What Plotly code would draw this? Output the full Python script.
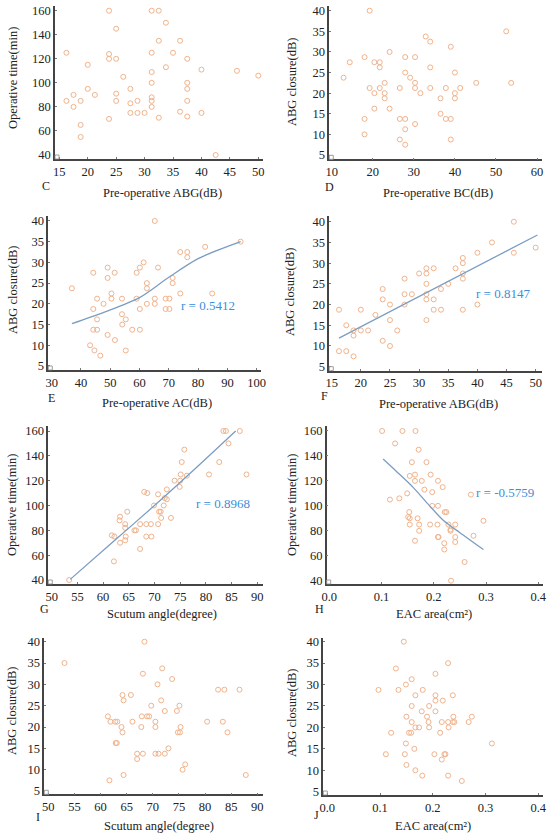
import plotly.graph_objects as go

W, H = 550, 836

# ---------------- data ----------------
c_x = [16.25, 16.25, 17.5, 17.5, 18.75, 18.75, 18.75, 20, 20, 21.25, 23.75, 23.75, 23.75, 23.75,
       25, 25, 25, 25, 26.25, 27.5, 27.5, 27.5, 28.75, 28.75, 30, 31.25, 31.25, 31.25, 31.25, 31.25,
       31.25, 31.25, 32.5, 32.5, 32.5, 33.75, 33.75, 35, 36.25, 36.25, 37.5, 37.5, 37.5, 37.5, 37.5,
       40, 40, 42.5, 46.25, 50]
c_y = [125, 85, 90, 80, 85, 65, 55, 115, 95, 90, 160, 124, 120, 70,
       145, 120, 91, 85, 105, 95, 83, 75, 85, 75, 75, 160, 125, 109, 100, 88,
       85, 80, 160, 135, 71, 150, 113, 125, 135, 76, 120, 100, 95, 85, 72,
       111, 75, 40, 110, 106]

d_x = [12.9, 14.4, 19.25, 18.0, 18.0, 18.0, 19.25, 20.4, 20.4, 20.4, 21.7, 21.7, 21.7, 22.9, 22.9,
       22.9, 24.1, 24.1, 26.6, 26.6, 26.6, 27.9, 27.9, 27.9, 27.9, 27.9, 29.1, 30.3, 30.3, 30.3, 30.3,
       31.6, 32.9, 34.0, 34.0, 34.0, 36.5, 36.5, 37.8, 37.8, 39.0, 39.0, 39.0, 40.0, 40.0, 40.0, 41.3,
       45.2, 52.5, 53.7]
d_y = [23.75, 27.5, 40, 28.75, 13.75, 10, 21.25, 27.5, 20, 16.25, 27.5, 26.25, 21.25, 22.5, 20,
       18.75, 30, 16.25, 21.25, 13.75, 8.75, 28.75, 25, 13.75, 11.25, 7.5, 23.75, 28.75, 22.5, 21.25, 12.5,
       20, 33.75, 32.5, 26.25, 21.25, 18.75, 15, 21.25, 13.75, 31.25, 13.75, 8.75, 25, 20, 18.75, 21.25,
       22.5, 35, 22.5]

e_x = [36.9, 43.1, 44.2, 44.2, 44.2, 44.6, 45.5, 45.5, 45.5, 46.6, 47.7, 49.1, 49.1, 49.1, 50.4,
       50.4, 51.5, 51.6, 54.0, 54.0, 54.1, 55.3, 55.3, 57.5, 59.0, 59.0, 60.1, 60.1, 60.1, 61.4, 62.5,
       62.5, 62.5, 65.2, 65.2, 65.2, 66.3, 68.9, 68.9, 70.2, 70.2, 71.3, 71.3, 73.9, 73.9, 76.3, 76.3,
       82.4, 84.8, 94.5]
e_y = [23.75, 10, 27.5, 18.75, 13.75, 8.75, 21.25, 16.25, 13.75, 7.5, 20, 28.75, 26.25, 12.5, 22.5,
       21.25, 27.5, 11.25, 21.25, 17.5, 15, 16.25, 8.75, 13.75, 27.5, 21.25, 28.75, 18.75, 13.75, 30, 25,
       23.75, 20, 40, 21.25, 20, 28.75, 21.25, 18.75, 21.25, 18.75, 26.25, 25, 32.5, 22.5, 32.5, 31.25,
       33.75, 22.5, 35]
e_fit_x = [36.9, 48, 60, 70, 80, 94.5]
e_fit_y = [15.2, 18.0, 21.5, 26.4, 30.9, 35.0]

f_x = [16.25, 16.25, 17.5, 17.5, 18.75, 18.75, 18.75, 20, 20, 21.25, 22.5, 23.75, 23.75, 23.75,
       25, 25, 25, 26.25, 27.5, 27.5, 27.5, 28.75, 30, 31.25, 31.25, 31.25, 31.25, 31.25, 31.25,
       32.5, 32.5, 32.5, 33.75, 33.75, 35, 36.25, 37.5, 37.5, 37.5, 37.5, 37.5, 40, 40, 42.5,
       46.25, 46.25, 50]
f_y = [18.75, 8.75, 15, 8.75, 13.75, 12.5, 7.5, 18.75, 13.75, 13.75, 17.5, 23.75, 21.25, 11.25,
       20, 16.25, 10, 13.75, 26.25, 22.5, 20, 22.5, 27.5, 28.75, 27.5, 25, 22.5, 21.25, 16.25,
       28.75, 21.25, 18.75, 23.75, 18.75, 25, 28.75, 31.25, 30, 27.5, 26.25, 18.75, 32.5, 20, 35,
       40, 32.5, 33.75]
f_fit_x = [16.25, 50.3]
f_fit_y = [11.9, 36.8]

g_x = [53.4, 61.7, 62.2, 62.1, 63.2, 63.3, 63.3, 64.3, 64.3, 64.4, 64.3, 64.7, 66.1, 66.4, 67.2,
       67.2, 68.0, 68.4, 68.4, 68.6, 69.3, 69.4, 69.9, 70.7, 70.7, 70.9, 71.2, 71.3, 71.8, 72.0,
       72.4, 72.4, 73.2, 73.9, 74.9, 75.0, 75.1, 75.3, 75.8, 76.3, 80.6, 82.6, 83.4, 83.9, 84.4,
       86.6, 87.9]
g_y = [40, 76, 75, 55, 88, 91, 70, 85, 82, 75, 72, 95, 80, 80, 85,
       65, 111, 85, 75, 110, 85, 75, 100, 109, 85, 95, 95, 90, 100, 106,
       105, 113, 90, 120, 115, 120, 125, 135, 145, 124, 125, 135, 160, 160, 150,
       160, 125]
g_fit_x = [53.6, 62, 70, 78, 85.8]
g_fit_y = [40.5, 71, 100, 130, 160]

h_x = [0.101, 0.140, 0.165, 0.126, 0.171, 0.158, 0.186, 0.164, 0.154, 0.194, 0.164, 0.177, 0.208,
       0.217, 0.182, 0.197, 0.149, 0.116, 0.134, 0.271, 0.197, 0.208, 0.153, 0.221, 0.224, 0.151,
       0.154, 0.169, 0.154, 0.172, 0.193, 0.207, 0.228, 0.241, 0.295, 0.232, 0.232, 0.172, 0.208,
       0.209, 0.241, 0.276, 0.164, 0.220, 0.241, 0.220, 0.259, 0.233]
h_y = [160, 160, 160, 150, 145, 135, 135, 125, 124, 125, 120, 120, 120,
       115, 113, 111, 110, 105, 106, 109, 100, 100, 95, 95, 95, 91,
       90, 90, 85, 85, 85, 85, 85, 85, 88, 81, 80, 80, 75,
       75, 75, 76, 72, 70, 71, 65, 55, 40]
h_fit_x = [0.103, 0.13, 0.16, 0.19, 0.218, 0.25, 0.295]
h_fit_y = [137.5, 127, 115, 101, 88.5, 78.5, 65]

i_x = [53.1, 61.4, 61.9, 61.7, 62.8, 63.2, 62.9, 63.1, 64.0, 64.2, 64.2, 64.4, 64.4, 65.8, 66.1,
       67.0, 67.0, 67.8, 67.9, 68.1, 68.1, 68.4, 68.9, 69.3, 69.7, 70.5, 70.5, 70.5, 70.9, 71.1,
       71.6, 71.8, 72.3, 72.3, 73.0, 73.7, 74.6, 74.8, 75.1, 75.3, 75.2, 75.7, 76.2, 80.4, 82.5,
       83.4, 83.7, 84.3, 86.6, 87.8]
i_y = [35, 22.5, 21.25, 7.5, 21.25, 21.25, 16.25, 16.25, 20, 18.75, 27.5, 26.25, 8.75, 27.5, 21.25,
       13.75, 12.5, 20, 22.5, 32.5, 13.75, 40, 22.5, 22.5, 25, 21.25, 20, 13.75, 30, 13.75,
       26.25, 33.75, 23.75, 13.75, 15, 31.25, 23.75, 18.75, 25, 20, 18.75, 10, 11.25, 21.25, 28.75,
       21.25, 28.75, 18.75, 28.75, 8.75]

j_x = [0.097, 0.111, 0.121, 0.130, 0.135, 0.145, 0.147, 0.149, 0.150, 0.149, 0.150, 0.155, 0.159,
       0.160, 0.160, 0.160, 0.165, 0.167, 0.167, 0.167, 0.174, 0.179, 0.181, 0.180, 0.189, 0.193,
       0.192, 0.193, 0.203, 0.205, 0.205, 0.205, 0.205, 0.214, 0.217, 0.217, 0.219, 0.222, 0.224,
       0.229, 0.230, 0.229, 0.229, 0.238, 0.239, 0.238, 0.241, 0.255, 0.268, 0.274, 0.312]
j_y = [28.75, 13.75, 18.75, 33.75, 28.75, 40, 13.75, 30, 22.5, 16.25, 11.25, 18.75, 18.75,
       31.25, 25, 21.25, 15, 27.5, 20, 10, 20, 23.75, 28.75, 8.75, 22.5, 25,
       21.25, 20, 13.75, 23.75, 26.25, 27.5, 32.5, 18.75, 21.25, 12.5, 26.25, 13.75, 13.75,
       21.25, 20, 35, 8.75, 27.5, 22.5, 21.25, 21.25, 7.5, 21.25, 22.5, 16.25]

x_titles = ["Pre-operative ABG(dB)", "Pre-operative BC(dB)", "Pre-operative AC(dB)",
            "Pre-operative ABG(dB)", "Scutum angle(degree)", "EAC area(cm\u00b2)",
            "Scutum angle(degree)", "EAC area(cm\u00b2)"]
y_titles = ["Operative time(min)", "ABG closure(dB)", "ABG closure(dB)", "ABG closure(dB)",
            "Operative time(min)", "Operative time(min)", "ABG closure(dB)", "ABG closure(dB)"]
letters = ["C", "D", "E", "F", "G", "H", "I", "J"]
r_labels = [None, None, "r = 0.5412", "r = 0.8147", "r = 0.8968", "r = -0.5759", None, None]

# ---------------- layout geometry (pixels) ----------------
# (left, right, top, bottom) of axes lines
boxes = [(55, 263, 6, 159), (329.3, 541.7, 6, 159.3),
         (48.3, 261, 216, 370), (329.3, 541.7, 216, 370.7),
         (48.3, 263.3, 426, 584), (326.7, 543.3, 426, 584),
         (44.3, 263.3, 637.7, 794.3), (323.3, 543.3, 637.7, 795)]
xranges = [[14.24, 50.83], [9.42, 61.14], [28.84, 101.47], [14.59, 51.03],
           [49.34, 91.17], [-0.005, 0.4096], [49.23, 91.15], [-0.0076, 0.4095]]
yranges = [[36.67, 163.9], [3.96, 41.14], [4.03, 41.2], [4.03, 41.38],
           [36.78, 164.03], [37.35, 164.0], [4.23, 40.94], [4.23, 40.93]]
xticks = [list(range(15, 51, 5)), list(range(10, 61, 10)), list(range(30, 101, 10)),
          list(range(15, 51, 5)), list(range(50, 91, 5)), [0.0, 0.1, 0.2, 0.3, 0.4],
          list(range(50, 91, 5)), [0.0, 0.1, 0.2, 0.3, 0.4]]
yticks_time = list(range(40, 161, 20))
yticks_abg = list(range(5, 41, 5))
yticks = [yticks_time, yticks_abg, yticks_abg, yticks_abg, yticks_time, yticks_time,
          yticks_abg, yticks_abg]
letter_pos = [(46, 186), (329, 187), (51, 398), (324, 396), (44, 609), (319, 609),
              (38, 817), (316, 815)]
xtitle_pos = [(162, 193), (438, 193), (157, 403), (438, 404), (162, 614), (434, 614),
              (159, 826), (433, 826)]
ytitle_pos = [(13, 78), (292, 82), (13, 290), (290, 292), (12, 505), (292, 505),
              (12, 711), (292, 713)]
r_pos = [None, None, (83.5, 19.5), (44.4, 22.7), (83.4, 101.7), (0.336, 110.8), None, None]

scatter_data = [(c_x, c_y), (d_x, d_y), (e_x, e_y), (f_x, f_y), (g_x, g_y), (h_x, h_y),
                (i_x, i_y), (j_x, j_y)]
fit_data = [None, None, (e_fit_x, e_fit_y), (f_fit_x, f_fit_y), (g_fit_x, g_fit_y),
            (h_fit_x, h_fit_y), None, None]

FONT = "Liberation Serif"
MARK = "#F0B38C"
LINE = "#7C9DC2"
RCOL = "#3A8FDA"
AXC = "#444444"


def px(x):
    return x / W


def py(y):
    return 1 - y / H


fig = go.Figure()
layout = dict(width=W, height=H, margin=dict(l=0, r=0, t=0, b=0),
              paper_bgcolor="white", plot_bgcolor="white", showlegend=False,
              font=dict(family=FONT, size=11, color="#222"))
annotations = []
shapes = []

for k in range(8):
    n = "" if k == 0 else str(k + 1)
    xa, ya = "x" + n, "y" + n
    L, R, T, B = boxes[k]
    sx, sy = scatter_data[k]
    fig.add_trace(go.Scatter(x=sx, y=sy, mode="markers", xaxis=xa, yaxis=ya,
                             marker=dict(symbol="circle-open", size=5, color=MARK,
                                         line=dict(width=1, color=MARK))))
    if fit_data[k] is not None:
        fx, fy = fit_data[k]
        fig.add_trace(go.Scatter(x=fx, y=fy, mode="lines", xaxis=xa, yaxis=ya,
                                 line=dict(color=LINE, width=1.3, shape="spline", smoothing=0.8)))
    is_area = k in (5, 7)
    layout["xaxis" + n] = dict(domain=[px(L), px(R)], range=xranges[k], anchor=ya,
                               tickvals=xticks[k],
                               ticktext=[("%.1f" % v) if is_area else str(v) for v in xticks[k]],
                               showgrid=False, zeroline=False, showline=True, automargin=False,
                               linecolor=AXC, linewidth=1.5, ticks="inside", ticklen=2,
                               tickcolor="#777", tickfont=dict(size=12.5, family=FONT, color="#222"))
    layout["yaxis" + n] = dict(domain=[py(B), py(T)], range=yranges[k], anchor=xa,
                               tickvals=yticks[k], showgrid=False, zeroline=False, showline=True,
                               automargin=False,
                               linecolor=AXC, linewidth=1.5, ticks="inside", ticklen=2,
                               tickcolor="#777", tickfont=dict(size=12.5, family=FONT, color="#222"))
    lx, ly = letter_pos[k]
    annotations.append(dict(text=letters[k], x=px(lx), y=py(ly), xref="paper", yref="paper",
                            xanchor="center", yanchor="middle",
                            showarrow=False, font=dict(size=12, family=FONT, color="#222")))
    tx, ty = xtitle_pos[k]
    annotations.append(dict(text=x_titles[k], x=px(tx), y=py(ty), xref="paper", yref="paper",
                            xanchor="center", yanchor="middle",
                            showarrow=False, font=dict(size=12.5, family=FONT, color="#222")))
    yx, yy = ytitle_pos[k]
    annotations.append(dict(text=y_titles[k], x=px(yx), y=py(yy), xref="paper", yref="paper",
                            xanchor="center", yanchor="middle",
                            showarrow=False, textangle=-90,
                            font=dict(size=12.5, family=FONT, color="#222")))
    if r_labels[k] is not None:
        rx, ry = r_pos[k]
        annotations.append(dict(text=r_labels[k], x=rx, y=ry, xref=xa, yref=ya,
                                showarrow=False, font=dict(size=13, family=FONT, color=RCOL)))
    shapes.append(dict(type="rect", xref="paper", yref="paper",
                       x0=px(L), x1=px(L + 4), y0=py(B), y1=py(B - 4),
                       line=dict(color="#888", width=0.8), fillcolor="white"))

layout["annotations"] = annotations
layout["shapes"] = shapes
fig.update_layout(**layout)
fig.write_html("out.html", config={"displayModeBar": False},
               post_script="document.body.style.margin='0';document.body.style.padding='0';"
                           "document.documentElement.style.overflow='hidden';")
